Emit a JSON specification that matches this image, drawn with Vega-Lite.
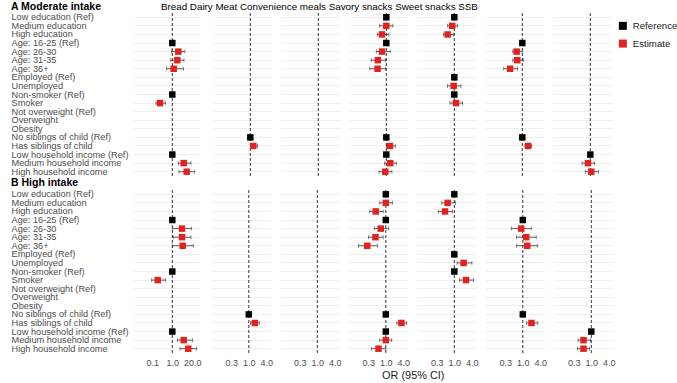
{
"$schema":"https://vega.github.io/schema/vega-lite/v6.json",
"padding":{"left":11,"top":2,"right":0,"bottom":0},
"title":{"text":"Bread Dairy Meat Convenience meals Savory snacks Sweet snacks SSB","anchor":"start","frame":"bounds","baseline":"top","offset":0,"dx":150,"dy":10,"fontSize":9.8,"fontWeight":"normal","font":"Liberation Sans","color":"#000000"},
"config":{
"view":{"stroke":null},
"font":"Liberation Sans",
"axis":{"domain":false,"ticks":false,"gridColor":"#e6e6e6","gridWidth":0.7,"labelFont":"Liberation Sans","labelColor":"#4d4d4d","labelFontSize":9.2,"labelOverlap":false,"labelFlush":false},
"axisX":{"labelPadding":5.5,"labelFontSize":9},
"legend":{"orient":"right","symbolType":"square","symbolSize":64,"labelFontSize":9.7,"labelColor":"#1a1a1a","labelFont":"Liberation Sans","rowPadding":6.7,"offset":-6,"padding":8,"labelOffset":5,"symbolStrokeWidth":0}
},
"datasets":{"d":[
{"p":"A","f":"Bread","v":"Age: 16-25 (Ref)","t":"Reference","or":1},
{"p":"A","f":"Bread","v":"Age: 26-30","t":"Estimate","or":2.45,"lo":0.91,"hi":6.7},
{"p":"A","f":"Bread","v":"Age: 31-35","t":"Estimate","or":2.11,"lo":0.79,"hi":5.76},
{"p":"A","f":"Bread","v":"Age: 36+","t":"Estimate","or":1.23,"lo":0.43,"hi":5.2},
{"p":"A","f":"Bread","v":"Non-smoker (Ref)","t":"Reference","or":1},
{"p":"A","f":"Bread","v":"Smoker","t":"Estimate","or":0.16,"lo":0.087,"hi":0.37},
{"p":"A","f":"Bread","v":"Low household income (Ref)","t":"Reference","or":1},
{"p":"A","f":"Bread","v":"Medium household income","t":"Estimate","or":5.5,"lo":2.45,"hi":16.4},
{"p":"A","f":"Bread","v":"High household income","t":"Estimate","or":8.6,"lo":2.7,"hi":26.8},
{"p":"A","f":"Dairy","v":"No siblings of child (Ref)","t":"Reference","or":1},
{"p":"A","f":"Dairy","v":"Has siblings of child","t":"Estimate","or":1.27,"lo":1.06,"hi":1.78},
{"p":"A","f":"Conv","v":"Low education (Ref)","t":"Reference","or":1},
{"p":"A","f":"Conv","v":"Medium education","t":"Estimate","or":1.0,"lo":0.59,"hi":1.69},
{"p":"A","f":"Conv","v":"High education","t":"Estimate","or":0.71,"lo":0.49,"hi":1.23},
{"p":"A","f":"Conv","v":"Age: 16-25 (Ref)","t":"Reference","or":1},
{"p":"A","f":"Conv","v":"Age: 26-30","t":"Estimate","or":0.71,"lo":0.45,"hi":1.37},
{"p":"A","f":"Conv","v":"Age: 31-35","t":"Estimate","or":0.51,"lo":0.30,"hi":0.95},
{"p":"A","f":"Conv","v":"Age: 36+","t":"Estimate","or":0.50,"lo":0.27,"hi":0.95},
{"p":"A","f":"Conv","v":"No siblings of child (Ref)","t":"Reference","or":1},
{"p":"A","f":"Conv","v":"Has siblings of child","t":"Estimate","or":1.33,"lo":1.0,"hi":2.04},
{"p":"A","f":"Conv","v":"Low household income (Ref)","t":"Reference","or":1},
{"p":"A","f":"Conv","v":"Medium household income","t":"Estimate","or":1.37,"lo":0.87,"hi":2.21},
{"p":"A","f":"Conv","v":"High household income","t":"Estimate","or":0.92,"lo":0.56,"hi":1.56},
{"p":"A","f":"Savory","v":"Low education (Ref)","t":"Reference","or":1},
{"p":"A","f":"Savory","v":"Medium education","t":"Estimate","or":0.85,"lo":0.59,"hi":1.30},
{"p":"A","f":"Savory","v":"High education","t":"Estimate","or":0.59,"lo":0.42,"hi":0.92},
{"p":"A","f":"Savory","v":"Employed (Ref)","t":"Reference","or":1},
{"p":"A","f":"Savory","v":"Unemployed","t":"Estimate","or":0.95,"lo":0.59,"hi":1.70},
{"p":"A","f":"Savory","v":"Non-smoker (Ref)","t":"Reference","or":1},
{"p":"A","f":"Savory","v":"Smoker","t":"Estimate","or":1.14,"lo":0.71,"hi":1.93},
{"p":"A","f":"Sweet","v":"Age: 16-25 (Ref)","t":"Reference","or":1},
{"p":"A","f":"Sweet","v":"Age: 26-30","t":"Estimate","or":0.64,"lo":0.47,"hi":1.0},
{"p":"A","f":"Sweet","v":"Age: 31-35","t":"Estimate","or":0.67,"lo":0.47,"hi":1.08},
{"p":"A","f":"Sweet","v":"Age: 36+","t":"Estimate","or":0.38,"lo":0.23,"hi":0.69},
{"p":"A","f":"Sweet","v":"No siblings of child (Ref)","t":"Reference","or":1},
{"p":"A","f":"Sweet","v":"Has siblings of child","t":"Estimate","or":1.57,"lo":1.24,"hi":2.1},
{"p":"A","f":"SSB","v":"Low household income (Ref)","t":"Reference","or":1},
{"p":"A","f":"SSB","v":"Medium household income","t":"Estimate","or":0.83,"lo":0.52,"hi":1.41},
{"p":"A","f":"SSB","v":"High household income","t":"Estimate","or":1.08,"lo":0.67,"hi":1.93},
{"p":"B","f":"Bread","v":"Age: 16-25 (Ref)","t":"Reference","or":1},
{"p":"B","f":"Bread","v":"Age: 26-30","t":"Estimate","or":4.26,"lo":1.06,"hi":18.2},
{"p":"B","f":"Bread","v":"Age: 31-35","t":"Estimate","or":4.26,"lo":1.16,"hi":16.4},
{"p":"B","f":"Bread","v":"Age: 36+","t":"Estimate","or":4.73,"lo":1.06,"hi":23.2},
{"p":"B","f":"Bread","v":"Non-smoker (Ref)","t":"Reference","or":1},
{"p":"B","f":"Bread","v":"Smoker","t":"Estimate","or":0.113,"lo":0.046,"hi":0.37},
{"p":"B","f":"Bread","v":"Low household income (Ref)","t":"Reference","or":1},
{"p":"B","f":"Bread","v":"Medium household income","t":"Estimate","or":5.5,"lo":2.11,"hi":21.1},
{"p":"B","f":"Bread","v":"High household income","t":"Estimate","or":10.9,"lo":3.16,"hi":38.4},
{"p":"B","f":"Dairy","v":"No siblings of child (Ref)","t":"Reference","or":1},
{"p":"B","f":"Dairy","v":"Has siblings of child","t":"Estimate","or":1.61,"lo":1.14,"hi":2.33},
{"p":"B","f":"Conv","v":"Low education (Ref)","t":"Reference","or":1},
{"p":"B","f":"Conv","v":"Medium education","t":"Estimate","or":1.0,"lo":0.62,"hi":1.69},
{"p":"B","f":"Conv","v":"High education","t":"Estimate","or":0.45,"lo":0.28,"hi":0.81},
{"p":"B","f":"Conv","v":"Age: 16-25 (Ref)","t":"Reference","or":1},
{"p":"B","f":"Conv","v":"Age: 26-30","t":"Estimate","or":0.67,"lo":0.40,"hi":1.23},
{"p":"B","f":"Conv","v":"Age: 31-35","t":"Estimate","or":0.44,"lo":0.25,"hi":0.81},
{"p":"B","f":"Conv","v":"Age: 36+","t":"Estimate","or":0.23,"lo":0.114,"hi":0.51},
{"p":"B","f":"Conv","v":"No siblings of child (Ref)","t":"Reference","or":1},
{"p":"B","f":"Conv","v":"Has siblings of child","t":"Estimate","or":3.44,"lo":2.39,"hi":5.28},
{"p":"B","f":"Conv","v":"Low household income (Ref)","t":"Reference","or":1},
{"p":"B","f":"Conv","v":"Medium household income","t":"Estimate","or":1.0,"lo":0.62,"hi":1.61},
{"p":"B","f":"Conv","v":"High household income","t":"Estimate","or":0.56,"lo":0.32,"hi":1.0},
{"p":"B","f":"Savory","v":"Low education (Ref)","t":"Reference","or":1},
{"p":"B","f":"Savory","v":"Medium education","t":"Estimate","or":0.59,"lo":0.37,"hi":1.08},
{"p":"B","f":"Savory","v":"High education","t":"Estimate","or":0.48,"lo":0.28,"hi":0.87},
{"p":"B","f":"Savory","v":"Employed (Ref)","t":"Reference","or":1},
{"p":"B","f":"Savory","v":"Unemployed","t":"Estimate","or":2.09,"lo":1.24,"hi":4.06},
{"p":"B","f":"Savory","v":"Non-smoker (Ref)","t":"Reference","or":1},
{"p":"B","f":"Savory","v":"Smoker","t":"Estimate","or":2.53,"lo":1.49,"hi":4.6},
{"p":"B","f":"Sweet","v":"Age: 16-25 (Ref)","t":"Reference","or":1},
{"p":"B","f":"Sweet","v":"Age: 26-30","t":"Estimate","or":0.88,"lo":0.40,"hi":1.95},
{"p":"B","f":"Sweet","v":"Age: 31-35","t":"Estimate","or":1.31,"lo":0.61,"hi":2.89},
{"p":"B","f":"Sweet","v":"Age: 36+","t":"Estimate","or":1.42,"lo":0.61,"hi":3.28},
{"p":"B","f":"Sweet","v":"No siblings of child (Ref)","t":"Reference","or":1},
{"p":"B","f":"Sweet","v":"Has siblings of child","t":"Estimate","or":1.99,"lo":1.34,"hi":3.28},
{"p":"B","f":"SSB","v":"Low household income (Ref)","t":"Reference","or":1},
{"p":"B","f":"SSB","v":"Medium household income","t":"Estimate","or":0.54,"lo":0.35,"hi":0.95},
{"p":"B","f":"SSB","v":"High household income","t":"Estimate","or":0.54,"lo":0.33,"hi":0.87}
]},
"spacing":1,
"vconcat":[
{"title":{"text":"A Moderate intake","anchor":"start","frame":"bounds","baseline":"alphabetic","offset":-8,"fontSize":10.5,"fontWeight":"bold","color":"#000000","font":"Liberation Sans"},
"spacing":13,
"hconcat":[
{"width":67,"height":163,"layer":[
{"data":{"values":[{}]},"mark":{"type":"rule","color":"#000000","strokeDash":[3,2],"strokeWidth":0.8},"encoding":{"x":{"datum":1,"type":"quantitative","scale":{"type":"log","domain":[0.0028,63]},"axis":{"values":[0.01118,0.05,0.2236,1,4.472,20],"labels":false,"title":null}}}},
{"data":{"name":"d"},"transform":[{"filter":"datum.p=='A'&&datum.f=='Bread'"}],"encoding":{"y":{"field":"v","type":"nominal","scale":{"domain":["Low education (Ref)","Medium education","High education","Age: 16-25 (Ref)","Age: 26-30","Age: 31-35","Age: 36+","Employed (Ref)","Unemployed","Non-smoker (Ref)","Smoker","Not overweight (Ref)","Overweight","Obesity","No siblings of child (Ref)","Has siblings of child","Low household income (Ref)","Medium household income","High household income"]},"axis":{"labelAlign":"left","labelPadding":122,"grid":true,"title":null}},"x":{"field":"or","type":"quantitative","scale":{"type":"log","domain":[0.0028,63]},"axis":{"values":[0.01118,0.05,0.2236,1,4.472,20],"labels":false,"title":null}}},"layer":[
{"transform":[{"filter":"isValid(datum.lo)"}],"mark":{"type":"errorbar","ticks":true,"size":4,"thickness":0.7,"color":"#1a1a1a"},"encoding":{"x":{"field":"lo","type":"quantitative","scale":{"type":"log","domain":[0.0028,63]},"axis":{"values":[0.01118,0.05,0.2236,1,4.472,20],"labels":false,"title":null}},"x2":{"field":"hi"}}},
{"mark":{"type":"point","shape":"square","filled":true,"size":42,"opacity":1},"encoding":{"color":{"field":"t","type":"nominal","scale":{"domain":["Reference","Estimate"],"range":["#000000","#e3211f"]},"legend":{"title":null}}}}
]}]},
{"spacing":9,"hconcat":[
{"width":59,"height":163,"layer":[
{"data":{"values":[{}]},"mark":{"type":"rule","color":"#000000","strokeDash":[3,2],"strokeWidth":0.8},"encoding":{"x":{"datum":1,"type":"quantitative","scale":{"type":"log","domain":[0.052,5.58]},"axis":{"values":[0.0625,0.125,0.25,0.5,1,2,4],"labels":false,"title":null}}}},
{"data":{"name":"d"},"transform":[{"filter":"datum.p=='A'&&datum.f=='Dairy'"}],"encoding":{"y":{"field":"v","type":"nominal","scale":{"domain":["Low education (Ref)","Medium education","High education","Age: 16-25 (Ref)","Age: 26-30","Age: 31-35","Age: 36+","Employed (Ref)","Unemployed","Non-smoker (Ref)","Smoker","Not overweight (Ref)","Overweight","Obesity","No siblings of child (Ref)","Has siblings of child","Low household income (Ref)","Medium household income","High household income"]},"axis":{"labels":false,"grid":true,"title":null}},"x":{"field":"or","type":"quantitative","scale":{"type":"log","domain":[0.052,5.58]},"axis":{"values":[0.0625,0.125,0.25,0.5,1,2,4],"labels":false,"title":null}}},"layer":[
{"transform":[{"filter":"isValid(datum.lo)"}],"mark":{"type":"errorbar","ticks":true,"size":4,"thickness":0.7,"color":"#1a1a1a"},"encoding":{"x":{"field":"lo","type":"quantitative","scale":{"type":"log","domain":[0.052,5.58]},"axis":{"values":[0.0625,0.125,0.25,0.5,1,2,4],"labels":false,"title":null}},"x2":{"field":"hi"}}},
{"mark":{"type":"point","shape":"square","filled":true,"size":42,"opacity":1},"encoding":{"color":{"field":"t","type":"nominal","scale":{"domain":["Reference","Estimate"],"range":["#000000","#e3211f"]},"legend":{"title":null}}}}
]}]},
{"width":59,"height":163,"layer":[
{"data":{"values":[{}]},"mark":{"type":"rule","color":"#000000","strokeDash":[3,2],"strokeWidth":0.8},"encoding":{"x":{"datum":1,"type":"quantitative","scale":{"type":"log","domain":[0.052,5.58]},"axis":{"values":[0.0625,0.125,0.25,0.5,1,2,4],"labels":false,"title":null}}}},
{"data":{"name":"d"},"transform":[{"filter":"datum.p=='A'&&datum.f=='Meat'"}],"encoding":{"y":{"field":"v","type":"nominal","scale":{"domain":["Low education (Ref)","Medium education","High education","Age: 16-25 (Ref)","Age: 26-30","Age: 31-35","Age: 36+","Employed (Ref)","Unemployed","Non-smoker (Ref)","Smoker","Not overweight (Ref)","Overweight","Obesity","No siblings of child (Ref)","Has siblings of child","Low household income (Ref)","Medium household income","High household income"]},"axis":{"labels":false,"grid":true,"title":null}},"x":{"field":"or","type":"quantitative","scale":{"type":"log","domain":[0.052,5.58]},"axis":{"values":[0.0625,0.125,0.25,0.5,1,2,4],"labels":false,"title":null}}},"layer":[
{"transform":[{"filter":"isValid(datum.lo)"}],"mark":{"type":"errorbar","ticks":true,"size":4,"thickness":0.7,"color":"#1a1a1a"},"encoding":{"x":{"field":"lo","type":"quantitative","scale":{"type":"log","domain":[0.052,5.58]},"axis":{"values":[0.0625,0.125,0.25,0.5,1,2,4],"labels":false,"title":null}},"x2":{"field":"hi"}}},
{"mark":{"type":"point","shape":"square","filled":true,"size":42,"opacity":1},"encoding":{"color":{"field":"t","type":"nominal","scale":{"domain":["Reference","Estimate"],"range":["#000000","#e3211f"]},"legend":{"title":null}}}}
]}]},
{"width":59,"height":163,"layer":[
{"data":{"values":[{}]},"mark":{"type":"rule","color":"#000000","strokeDash":[3,2],"strokeWidth":0.8},"encoding":{"x":{"datum":1,"type":"quantitative","scale":{"type":"log","domain":[0.052,5.58]},"axis":{"values":[0.0625,0.125,0.25,0.5,1,2,4],"labels":false,"title":null}}}},
{"data":{"name":"d"},"transform":[{"filter":"datum.p=='A'&&datum.f=='Conv'"}],"encoding":{"y":{"field":"v","type":"nominal","scale":{"domain":["Low education (Ref)","Medium education","High education","Age: 16-25 (Ref)","Age: 26-30","Age: 31-35","Age: 36+","Employed (Ref)","Unemployed","Non-smoker (Ref)","Smoker","Not overweight (Ref)","Overweight","Obesity","No siblings of child (Ref)","Has siblings of child","Low household income (Ref)","Medium household income","High household income"]},"axis":{"labels":false,"grid":true,"title":null}},"x":{"field":"or","type":"quantitative","scale":{"type":"log","domain":[0.052,5.58]},"axis":{"values":[0.0625,0.125,0.25,0.5,1,2,4],"labels":false,"title":null}}},"layer":[
{"transform":[{"filter":"isValid(datum.lo)"}],"mark":{"type":"errorbar","ticks":true,"size":4,"thickness":0.7,"color":"#1a1a1a"},"encoding":{"x":{"field":"lo","type":"quantitative","scale":{"type":"log","domain":[0.052,5.58]},"axis":{"values":[0.0625,0.125,0.25,0.5,1,2,4],"labels":false,"title":null}},"x2":{"field":"hi"}}},
{"mark":{"type":"point","shape":"square","filled":true,"size":42,"opacity":1},"encoding":{"color":{"field":"t","type":"nominal","scale":{"domain":["Reference","Estimate"],"range":["#000000","#e3211f"]},"legend":{"title":null}}}}
]}]},
{"width":59,"height":163,"layer":[
{"data":{"values":[{}]},"mark":{"type":"rule","color":"#000000","strokeDash":[3,2],"strokeWidth":0.8},"encoding":{"x":{"datum":1,"type":"quantitative","scale":{"type":"log","domain":[0.052,5.58]},"axis":{"values":[0.0625,0.125,0.25,0.5,1,2,4],"labels":false,"title":null}}}},
{"data":{"name":"d"},"transform":[{"filter":"datum.p=='A'&&datum.f=='Savory'"}],"encoding":{"y":{"field":"v","type":"nominal","scale":{"domain":["Low education (Ref)","Medium education","High education","Age: 16-25 (Ref)","Age: 26-30","Age: 31-35","Age: 36+","Employed (Ref)","Unemployed","Non-smoker (Ref)","Smoker","Not overweight (Ref)","Overweight","Obesity","No siblings of child (Ref)","Has siblings of child","Low household income (Ref)","Medium household income","High household income"]},"axis":{"labels":false,"grid":true,"title":null}},"x":{"field":"or","type":"quantitative","scale":{"type":"log","domain":[0.052,5.58]},"axis":{"values":[0.0625,0.125,0.25,0.5,1,2,4],"labels":false,"title":null}}},"layer":[
{"transform":[{"filter":"isValid(datum.lo)"}],"mark":{"type":"errorbar","ticks":true,"size":4,"thickness":0.7,"color":"#1a1a1a"},"encoding":{"x":{"field":"lo","type":"quantitative","scale":{"type":"log","domain":[0.052,5.58]},"axis":{"values":[0.0625,0.125,0.25,0.5,1,2,4],"labels":false,"title":null}},"x2":{"field":"hi"}}},
{"mark":{"type":"point","shape":"square","filled":true,"size":42,"opacity":1},"encoding":{"color":{"field":"t","type":"nominal","scale":{"domain":["Reference","Estimate"],"range":["#000000","#e3211f"]},"legend":{"title":null}}}}
]}]},
{"width":59,"height":163,"layer":[
{"data":{"values":[{}]},"mark":{"type":"rule","color":"#000000","strokeDash":[3,2],"strokeWidth":0.8},"encoding":{"x":{"datum":1,"type":"quantitative","scale":{"type":"log","domain":[0.052,5.58]},"axis":{"values":[0.0625,0.125,0.25,0.5,1,2,4],"labels":false,"title":null}}}},
{"data":{"name":"d"},"transform":[{"filter":"datum.p=='A'&&datum.f=='Sweet'"}],"encoding":{"y":{"field":"v","type":"nominal","scale":{"domain":["Low education (Ref)","Medium education","High education","Age: 16-25 (Ref)","Age: 26-30","Age: 31-35","Age: 36+","Employed (Ref)","Unemployed","Non-smoker (Ref)","Smoker","Not overweight (Ref)","Overweight","Obesity","No siblings of child (Ref)","Has siblings of child","Low household income (Ref)","Medium household income","High household income"]},"axis":{"labels":false,"grid":true,"title":null}},"x":{"field":"or","type":"quantitative","scale":{"type":"log","domain":[0.052,5.58]},"axis":{"values":[0.0625,0.125,0.25,0.5,1,2,4],"labels":false,"title":null}}},"layer":[
{"transform":[{"filter":"isValid(datum.lo)"}],"mark":{"type":"errorbar","ticks":true,"size":4,"thickness":0.7,"color":"#1a1a1a"},"encoding":{"x":{"field":"lo","type":"quantitative","scale":{"type":"log","domain":[0.052,5.58]},"axis":{"values":[0.0625,0.125,0.25,0.5,1,2,4],"labels":false,"title":null}},"x2":{"field":"hi"}}},
{"mark":{"type":"point","shape":"square","filled":true,"size":42,"opacity":1},"encoding":{"color":{"field":"t","type":"nominal","scale":{"domain":["Reference","Estimate"],"range":["#000000","#e3211f"]},"legend":{"title":null}}}}
]}]},
{"width":59,"height":163,"layer":[
{"data":{"values":[{}]},"mark":{"type":"rule","color":"#000000","strokeDash":[3,2],"strokeWidth":0.8},"encoding":{"x":{"datum":1,"type":"quantitative","scale":{"type":"log","domain":[0.052,5.58]},"axis":{"values":[0.0625,0.125,0.25,0.5,1,2,4],"labels":false,"title":null}}}},
{"data":{"name":"d"},"transform":[{"filter":"datum.p=='A'&&datum.f=='SSB'"}],"encoding":{"y":{"field":"v","type":"nominal","scale":{"domain":["Low education (Ref)","Medium education","High education","Age: 16-25 (Ref)","Age: 26-30","Age: 31-35","Age: 36+","Employed (Ref)","Unemployed","Non-smoker (Ref)","Smoker","Not overweight (Ref)","Overweight","Obesity","No siblings of child (Ref)","Has siblings of child","Low household income (Ref)","Medium household income","High household income"]},"axis":{"labels":false,"grid":true,"title":null}},"x":{"field":"or","type":"quantitative","scale":{"type":"log","domain":[0.052,5.58]},"axis":{"values":[0.0625,0.125,0.25,0.5,1,2,4],"labels":false,"title":null}}},"layer":[
{"transform":[{"filter":"isValid(datum.lo)"}],"mark":{"type":"errorbar","ticks":true,"size":4,"thickness":0.7,"color":"#1a1a1a"},"encoding":{"x":{"field":"lo","type":"quantitative","scale":{"type":"log","domain":[0.052,5.58]},"axis":{"values":[0.0625,0.125,0.25,0.5,1,2,4],"labels":false,"title":null}},"x2":{"field":"hi"}}},
{"mark":{"type":"point","shape":"square","filled":true,"size":42,"opacity":1},"encoding":{"color":{"field":"t","type":"nominal","scale":{"domain":["Reference","Estimate"],"range":["#000000","#e3211f"]},"legend":{"title":null}}}}
]}]}
]}
]},
{"title":{"text":"B High intake","anchor":"start","frame":"bounds","baseline":"alphabetic","offset":-7,"fontSize":10.5,"fontWeight":"bold","color":"#000000","font":"Liberation Sans"},
"spacing":9.5,
"hconcat":[
{"width":67,"height":163,"layer":[
{"data":{"values":[{}]},"mark":{"type":"rule","color":"#000000","strokeDash":[3,2],"strokeWidth":0.8},"encoding":{"x":{"datum":1,"type":"quantitative","scale":{"type":"log","domain":[0.0028,63]},"axis":{"values":[0.01118,0.05,0.2236,1,4.472,20],"labelExpr":"abs(datum.value-0.05)<1e-6?'0.1':abs(datum.value-1)<1e-6?'1.0':abs(datum.value-20)<1e-6?'20.0':''","title":null}}}},
{"data":{"name":"d"},"transform":[{"filter":"datum.p=='B'&&datum.f=='Bread'"}],"encoding":{"y":{"field":"v","type":"nominal","scale":{"domain":["Low education (Ref)","Medium education","High education","Age: 16-25 (Ref)","Age: 26-30","Age: 31-35","Age: 36+","Employed (Ref)","Unemployed","Non-smoker (Ref)","Smoker","Not overweight (Ref)","Overweight","Obesity","No siblings of child (Ref)","Has siblings of child","Low household income (Ref)","Medium household income","High household income"]},"axis":{"labelAlign":"left","labelPadding":122,"grid":true,"title":null}},"x":{"field":"or","type":"quantitative","scale":{"type":"log","domain":[0.0028,63]},"axis":{"values":[0.01118,0.05,0.2236,1,4.472,20],"labelExpr":"abs(datum.value-0.05)<1e-6?'0.1':abs(datum.value-1)<1e-6?'1.0':abs(datum.value-20)<1e-6?'20.0':''","title":null}}},"layer":[
{"transform":[{"filter":"isValid(datum.lo)"}],"mark":{"type":"errorbar","ticks":true,"size":4,"thickness":0.7,"color":"#1a1a1a"},"encoding":{"x":{"field":"lo","type":"quantitative","scale":{"type":"log","domain":[0.0028,63]},"axis":{"values":[0.01118,0.05,0.2236,1,4.472,20],"labelExpr":"abs(datum.value-0.05)<1e-6?'0.1':abs(datum.value-1)<1e-6?'1.0':abs(datum.value-20)<1e-6?'20.0':''","title":null}},"x2":{"field":"hi"}}},
{"mark":{"type":"point","shape":"square","filled":true,"size":42,"opacity":1},"encoding":{"color":{"field":"t","type":"nominal","scale":{"domain":["Reference","Estimate"],"range":["#000000","#e3211f"]},"legend":{"title":null}}}}
]}]},
{"spacing":6.5,"title":{"text":"OR (95% CI)","orient":"bottom","anchor":"middle","frame":"bounds","offset":2,"fontSize":10.9,"fontWeight":"normal","color":"#1a1a1a","font":"Liberation Sans"},"hconcat":[
{"width":59,"height":163,"layer":[
{"data":{"values":[{}]},"mark":{"type":"rule","color":"#000000","strokeDash":[3,2],"strokeWidth":0.8},"encoding":{"x":{"datum":1,"type":"quantitative","scale":{"type":"log","domain":[0.052,5.58]},"axis":{"values":[0.0625,0.125,0.25,0.5,1,2,4],"labelExpr":"abs(datum.value-0.25)<1e-6?'0.3':abs(datum.value-1)<1e-6?'1.0':abs(datum.value-4)<1e-6?'4.0':''","title":null}}}},
{"data":{"name":"d"},"transform":[{"filter":"datum.p=='B'&&datum.f=='Dairy'"}],"encoding":{"y":{"field":"v","type":"nominal","scale":{"domain":["Low education (Ref)","Medium education","High education","Age: 16-25 (Ref)","Age: 26-30","Age: 31-35","Age: 36+","Employed (Ref)","Unemployed","Non-smoker (Ref)","Smoker","Not overweight (Ref)","Overweight","Obesity","No siblings of child (Ref)","Has siblings of child","Low household income (Ref)","Medium household income","High household income"]},"axis":{"labels":false,"grid":true,"title":null}},"x":{"field":"or","type":"quantitative","scale":{"type":"log","domain":[0.052,5.58]},"axis":{"values":[0.0625,0.125,0.25,0.5,1,2,4],"labelExpr":"abs(datum.value-0.25)<1e-6?'0.3':abs(datum.value-1)<1e-6?'1.0':abs(datum.value-4)<1e-6?'4.0':''","title":null}}},"layer":[
{"transform":[{"filter":"isValid(datum.lo)"}],"mark":{"type":"errorbar","ticks":true,"size":4,"thickness":0.7,"color":"#1a1a1a"},"encoding":{"x":{"field":"lo","type":"quantitative","scale":{"type":"log","domain":[0.052,5.58]},"axis":{"values":[0.0625,0.125,0.25,0.5,1,2,4],"labelExpr":"abs(datum.value-0.25)<1e-6?'0.3':abs(datum.value-1)<1e-6?'1.0':abs(datum.value-4)<1e-6?'4.0':''","title":null}},"x2":{"field":"hi"}}},
{"mark":{"type":"point","shape":"square","filled":true,"size":42,"opacity":1},"encoding":{"color":{"field":"t","type":"nominal","scale":{"domain":["Reference","Estimate"],"range":["#000000","#e3211f"]},"legend":{"title":null}}}}
]}]},
{"width":59,"height":163,"layer":[
{"data":{"values":[{}]},"mark":{"type":"rule","color":"#000000","strokeDash":[3,2],"strokeWidth":0.8},"encoding":{"x":{"datum":1,"type":"quantitative","scale":{"type":"log","domain":[0.052,5.58]},"axis":{"values":[0.0625,0.125,0.25,0.5,1,2,4],"labelExpr":"abs(datum.value-0.25)<1e-6?'0.3':abs(datum.value-1)<1e-6?'1.0':abs(datum.value-4)<1e-6?'4.0':''","title":null}}}},
{"data":{"name":"d"},"transform":[{"filter":"datum.p=='B'&&datum.f=='Meat'"}],"encoding":{"y":{"field":"v","type":"nominal","scale":{"domain":["Low education (Ref)","Medium education","High education","Age: 16-25 (Ref)","Age: 26-30","Age: 31-35","Age: 36+","Employed (Ref)","Unemployed","Non-smoker (Ref)","Smoker","Not overweight (Ref)","Overweight","Obesity","No siblings of child (Ref)","Has siblings of child","Low household income (Ref)","Medium household income","High household income"]},"axis":{"labels":false,"grid":true,"title":null}},"x":{"field":"or","type":"quantitative","scale":{"type":"log","domain":[0.052,5.58]},"axis":{"values":[0.0625,0.125,0.25,0.5,1,2,4],"labelExpr":"abs(datum.value-0.25)<1e-6?'0.3':abs(datum.value-1)<1e-6?'1.0':abs(datum.value-4)<1e-6?'4.0':''","title":null}}},"layer":[
{"transform":[{"filter":"isValid(datum.lo)"}],"mark":{"type":"errorbar","ticks":true,"size":4,"thickness":0.7,"color":"#1a1a1a"},"encoding":{"x":{"field":"lo","type":"quantitative","scale":{"type":"log","domain":[0.052,5.58]},"axis":{"values":[0.0625,0.125,0.25,0.5,1,2,4],"labelExpr":"abs(datum.value-0.25)<1e-6?'0.3':abs(datum.value-1)<1e-6?'1.0':abs(datum.value-4)<1e-6?'4.0':''","title":null}},"x2":{"field":"hi"}}},
{"mark":{"type":"point","shape":"square","filled":true,"size":42,"opacity":1},"encoding":{"color":{"field":"t","type":"nominal","scale":{"domain":["Reference","Estimate"],"range":["#000000","#e3211f"]},"legend":{"title":null}}}}
]}]},
{"width":59,"height":163,"layer":[
{"data":{"values":[{}]},"mark":{"type":"rule","color":"#000000","strokeDash":[3,2],"strokeWidth":0.8},"encoding":{"x":{"datum":1,"type":"quantitative","scale":{"type":"log","domain":[0.052,5.58]},"axis":{"values":[0.0625,0.125,0.25,0.5,1,2,4],"labelExpr":"abs(datum.value-0.25)<1e-6?'0.3':abs(datum.value-1)<1e-6?'1.0':abs(datum.value-4)<1e-6?'4.0':''","title":null}}}},
{"data":{"name":"d"},"transform":[{"filter":"datum.p=='B'&&datum.f=='Conv'"}],"encoding":{"y":{"field":"v","type":"nominal","scale":{"domain":["Low education (Ref)","Medium education","High education","Age: 16-25 (Ref)","Age: 26-30","Age: 31-35","Age: 36+","Employed (Ref)","Unemployed","Non-smoker (Ref)","Smoker","Not overweight (Ref)","Overweight","Obesity","No siblings of child (Ref)","Has siblings of child","Low household income (Ref)","Medium household income","High household income"]},"axis":{"labels":false,"grid":true,"title":null}},"x":{"field":"or","type":"quantitative","scale":{"type":"log","domain":[0.052,5.58]},"axis":{"values":[0.0625,0.125,0.25,0.5,1,2,4],"labelExpr":"abs(datum.value-0.25)<1e-6?'0.3':abs(datum.value-1)<1e-6?'1.0':abs(datum.value-4)<1e-6?'4.0':''","title":null}}},"layer":[
{"transform":[{"filter":"isValid(datum.lo)"}],"mark":{"type":"errorbar","ticks":true,"size":4,"thickness":0.7,"color":"#1a1a1a"},"encoding":{"x":{"field":"lo","type":"quantitative","scale":{"type":"log","domain":[0.052,5.58]},"axis":{"values":[0.0625,0.125,0.25,0.5,1,2,4],"labelExpr":"abs(datum.value-0.25)<1e-6?'0.3':abs(datum.value-1)<1e-6?'1.0':abs(datum.value-4)<1e-6?'4.0':''","title":null}},"x2":{"field":"hi"}}},
{"mark":{"type":"point","shape":"square","filled":true,"size":42,"opacity":1},"encoding":{"color":{"field":"t","type":"nominal","scale":{"domain":["Reference","Estimate"],"range":["#000000","#e3211f"]},"legend":{"title":null}}}}
]}]},
{"width":59,"height":163,"layer":[
{"data":{"values":[{}]},"mark":{"type":"rule","color":"#000000","strokeDash":[3,2],"strokeWidth":0.8},"encoding":{"x":{"datum":1,"type":"quantitative","scale":{"type":"log","domain":[0.052,5.58]},"axis":{"values":[0.0625,0.125,0.25,0.5,1,2,4],"labelExpr":"abs(datum.value-0.25)<1e-6?'0.3':abs(datum.value-1)<1e-6?'1.0':abs(datum.value-4)<1e-6?'4.0':''","title":null}}}},
{"data":{"name":"d"},"transform":[{"filter":"datum.p=='B'&&datum.f=='Savory'"}],"encoding":{"y":{"field":"v","type":"nominal","scale":{"domain":["Low education (Ref)","Medium education","High education","Age: 16-25 (Ref)","Age: 26-30","Age: 31-35","Age: 36+","Employed (Ref)","Unemployed","Non-smoker (Ref)","Smoker","Not overweight (Ref)","Overweight","Obesity","No siblings of child (Ref)","Has siblings of child","Low household income (Ref)","Medium household income","High household income"]},"axis":{"labels":false,"grid":true,"title":null}},"x":{"field":"or","type":"quantitative","scale":{"type":"log","domain":[0.052,5.58]},"axis":{"values":[0.0625,0.125,0.25,0.5,1,2,4],"labelExpr":"abs(datum.value-0.25)<1e-6?'0.3':abs(datum.value-1)<1e-6?'1.0':abs(datum.value-4)<1e-6?'4.0':''","title":null}}},"layer":[
{"transform":[{"filter":"isValid(datum.lo)"}],"mark":{"type":"errorbar","ticks":true,"size":4,"thickness":0.7,"color":"#1a1a1a"},"encoding":{"x":{"field":"lo","type":"quantitative","scale":{"type":"log","domain":[0.052,5.58]},"axis":{"values":[0.0625,0.125,0.25,0.5,1,2,4],"labelExpr":"abs(datum.value-0.25)<1e-6?'0.3':abs(datum.value-1)<1e-6?'1.0':abs(datum.value-4)<1e-6?'4.0':''","title":null}},"x2":{"field":"hi"}}},
{"mark":{"type":"point","shape":"square","filled":true,"size":42,"opacity":1},"encoding":{"color":{"field":"t","type":"nominal","scale":{"domain":["Reference","Estimate"],"range":["#000000","#e3211f"]},"legend":{"title":null}}}}
]}]},
{"width":59,"height":163,"layer":[
{"data":{"values":[{}]},"mark":{"type":"rule","color":"#000000","strokeDash":[3,2],"strokeWidth":0.8},"encoding":{"x":{"datum":1,"type":"quantitative","scale":{"type":"log","domain":[0.052,5.58]},"axis":{"values":[0.0625,0.125,0.25,0.5,1,2,4],"labelExpr":"abs(datum.value-0.25)<1e-6?'0.3':abs(datum.value-1)<1e-6?'1.0':abs(datum.value-4)<1e-6?'4.0':''","title":null}}}},
{"data":{"name":"d"},"transform":[{"filter":"datum.p=='B'&&datum.f=='Sweet'"}],"encoding":{"y":{"field":"v","type":"nominal","scale":{"domain":["Low education (Ref)","Medium education","High education","Age: 16-25 (Ref)","Age: 26-30","Age: 31-35","Age: 36+","Employed (Ref)","Unemployed","Non-smoker (Ref)","Smoker","Not overweight (Ref)","Overweight","Obesity","No siblings of child (Ref)","Has siblings of child","Low household income (Ref)","Medium household income","High household income"]},"axis":{"labels":false,"grid":true,"title":null}},"x":{"field":"or","type":"quantitative","scale":{"type":"log","domain":[0.052,5.58]},"axis":{"values":[0.0625,0.125,0.25,0.5,1,2,4],"labelExpr":"abs(datum.value-0.25)<1e-6?'0.3':abs(datum.value-1)<1e-6?'1.0':abs(datum.value-4)<1e-6?'4.0':''","title":null}}},"layer":[
{"transform":[{"filter":"isValid(datum.lo)"}],"mark":{"type":"errorbar","ticks":true,"size":4,"thickness":0.7,"color":"#1a1a1a"},"encoding":{"x":{"field":"lo","type":"quantitative","scale":{"type":"log","domain":[0.052,5.58]},"axis":{"values":[0.0625,0.125,0.25,0.5,1,2,4],"labelExpr":"abs(datum.value-0.25)<1e-6?'0.3':abs(datum.value-1)<1e-6?'1.0':abs(datum.value-4)<1e-6?'4.0':''","title":null}},"x2":{"field":"hi"}}},
{"mark":{"type":"point","shape":"square","filled":true,"size":42,"opacity":1},"encoding":{"color":{"field":"t","type":"nominal","scale":{"domain":["Reference","Estimate"],"range":["#000000","#e3211f"]},"legend":{"title":null}}}}
]}]},
{"width":59,"height":163,"layer":[
{"data":{"values":[{}]},"mark":{"type":"rule","color":"#000000","strokeDash":[3,2],"strokeWidth":0.8},"encoding":{"x":{"datum":1,"type":"quantitative","scale":{"type":"log","domain":[0.052,5.58]},"axis":{"values":[0.0625,0.125,0.25,0.5,1,2,4],"labelExpr":"abs(datum.value-0.25)<1e-6?'0.3':abs(datum.value-1)<1e-6?'1.0':abs(datum.value-4)<1e-6?'4.0':''","title":null}}}},
{"data":{"name":"d"},"transform":[{"filter":"datum.p=='B'&&datum.f=='SSB'"}],"encoding":{"y":{"field":"v","type":"nominal","scale":{"domain":["Low education (Ref)","Medium education","High education","Age: 16-25 (Ref)","Age: 26-30","Age: 31-35","Age: 36+","Employed (Ref)","Unemployed","Non-smoker (Ref)","Smoker","Not overweight (Ref)","Overweight","Obesity","No siblings of child (Ref)","Has siblings of child","Low household income (Ref)","Medium household income","High household income"]},"axis":{"labels":false,"grid":true,"title":null}},"x":{"field":"or","type":"quantitative","scale":{"type":"log","domain":[0.052,5.58]},"axis":{"values":[0.0625,0.125,0.25,0.5,1,2,4],"labelExpr":"abs(datum.value-0.25)<1e-6?'0.3':abs(datum.value-1)<1e-6?'1.0':abs(datum.value-4)<1e-6?'4.0':''","title":null}}},"layer":[
{"transform":[{"filter":"isValid(datum.lo)"}],"mark":{"type":"errorbar","ticks":true,"size":4,"thickness":0.7,"color":"#1a1a1a"},"encoding":{"x":{"field":"lo","type":"quantitative","scale":{"type":"log","domain":[0.052,5.58]},"axis":{"values":[0.0625,0.125,0.25,0.5,1,2,4],"labelExpr":"abs(datum.value-0.25)<1e-6?'0.3':abs(datum.value-1)<1e-6?'1.0':abs(datum.value-4)<1e-6?'4.0':''","title":null}},"x2":{"field":"hi"}}},
{"mark":{"type":"point","shape":"square","filled":true,"size":42,"opacity":1},"encoding":{"color":{"field":"t","type":"nominal","scale":{"domain":["Reference","Estimate"],"range":["#000000","#e3211f"]},"legend":{"title":null}}}}
]}]}
]}
]}
]
}
